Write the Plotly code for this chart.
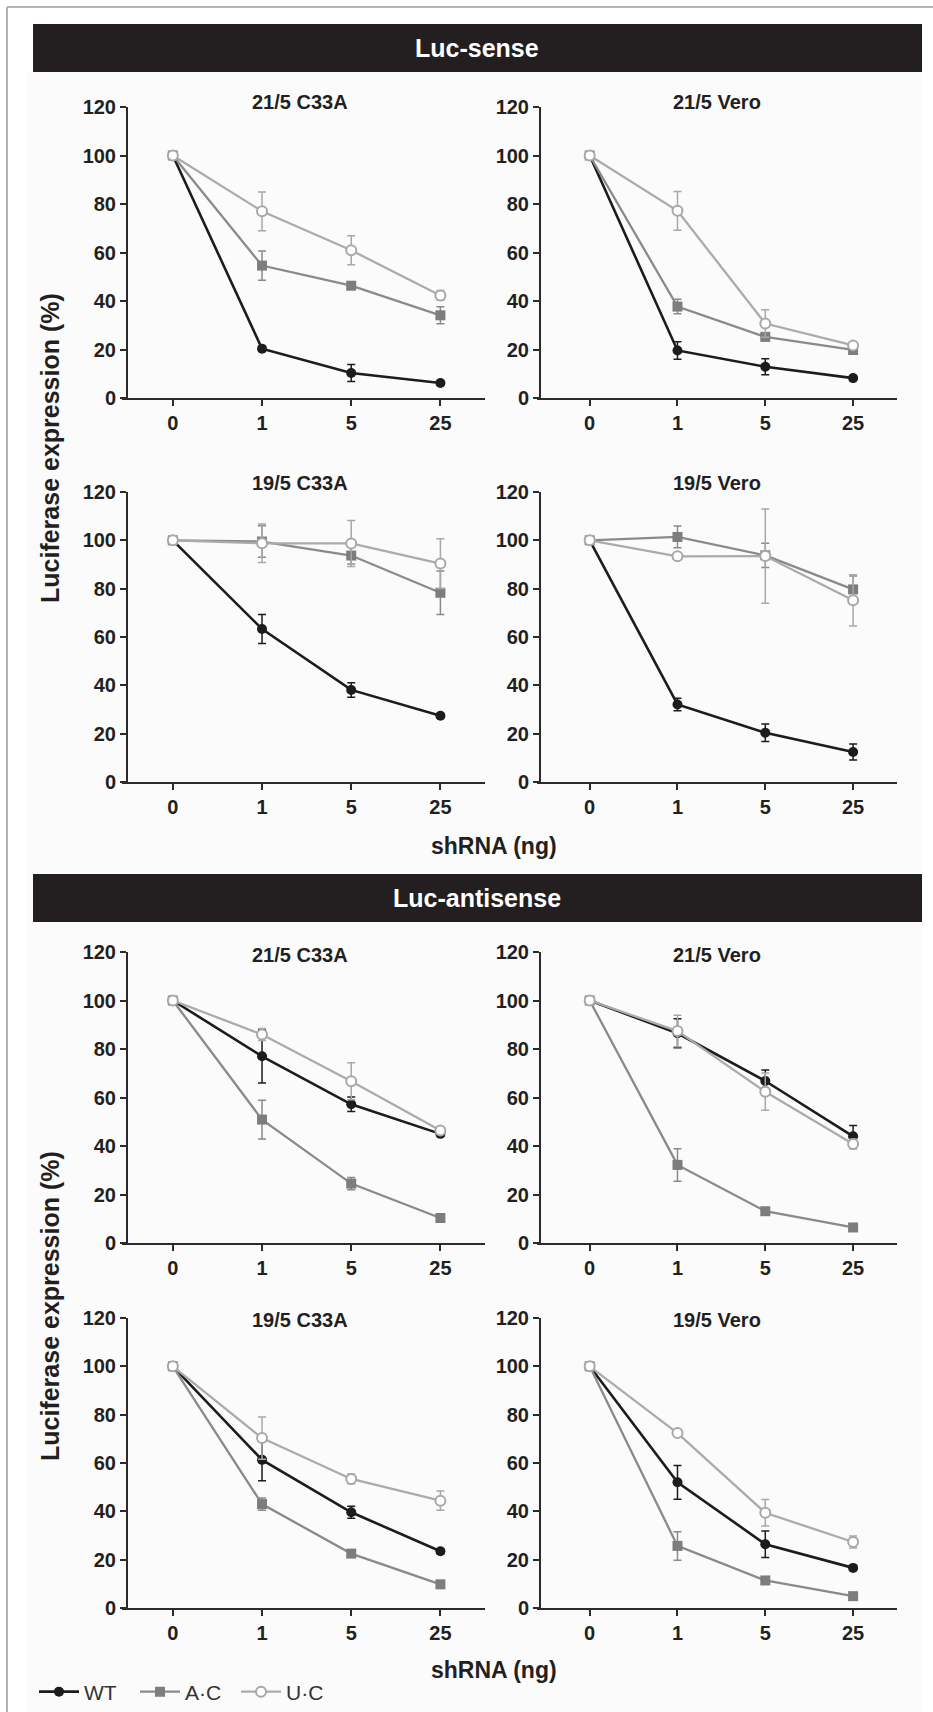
import plotly.graph_objects as go

# ---------------- data ----------------
DOSES = ["0", "1", "5", "25"]
SERIES = ["WT", "A·C", "U·C"]
PANEL_TITLES = ["21/5 C33A", "21/5 Vero", "19/5 C33A", "19/5 Vero"]
SECTION_TITLES = ["Luc-sense", "Luc-antisense"]
Y_TICKS = [0, 20, 40, 60, 80, 100, 120]

# Luc-sense
SENSE_21_C33A_WT = [100, 20.3, 10.3, 6.2]
SENSE_21_C33A_WT_ERR = [0, 1.0, 3.5, 0.8]
SENSE_21_C33A_AC = [100, 54.6, 46.3, 34.1]
SENSE_21_C33A_AC_ERR = [0, 6.0, 1.0, 3.5]
SENSE_21_C33A_UC = [100, 77.0, 60.9, 42.3]
SENSE_21_C33A_UC_ERR = [0, 8.0, 6.0, 2.0]

SENSE_21_VERO_WT = [100, 19.6, 12.9, 8.2]
SENSE_21_VERO_WT_ERR = [0, 3.6, 3.3, 0.8]
SENSE_21_VERO_AC = [100, 37.7, 25.2, 19.8]
SENSE_21_VERO_AC_ERR = [0, 3.0, 1.5, 1.0]
SENSE_21_VERO_UC = [100, 77.2, 30.7, 21.7]
SENSE_21_VERO_UC_ERR = [0, 8.0, 5.7, 1.0]

SENSE_19_C33A_WT = [100, 63.3, 38.1, 27.4]
SENSE_19_C33A_WT_ERR = [0, 6.0, 3.0, 0.8]
SENSE_19_C33A_AC = [100, 99.5, 93.7, 78.3]
SENSE_19_C33A_AC_ERR = [0, 6.5, 3.5, 9.0]
SENSE_19_C33A_UC = [100, 98.8, 98.7, 90.4]
SENSE_19_C33A_UC_ERR = [0, 8.0, 9.5, 10.3]

SENSE_19_VERO_WT = [100, 32.1, 20.4, 12.4]
SENSE_19_VERO_WT_ERR = [0, 2.6, 3.6, 3.3]
SENSE_19_VERO_AC = [100, 101.4, 93.8, 79.7]
SENSE_19_VERO_AC_ERR = [0, 4.5, 5.0, 5.5]
SENSE_19_VERO_UC = [100, 93.4, 93.5, 75.2]
SENSE_19_VERO_UC_ERR = [0, 0.8, 19.5, 10.6]

# Luc-antisense
ANTI_21_C33A_WT = [100, 77.0, 57.2, 45.0]
ANTI_21_C33A_WT_ERR = [0, 11.0, 3.0, 1.0]
ANTI_21_C33A_AC = [100, 50.9, 24.5, 10.3]
ANTI_21_C33A_AC_ERR = [0, 8.0, 2.5, 1.0]
ANTI_21_C33A_UC = [100, 86.0, 66.7, 46.4]
ANTI_21_C33A_UC_ERR = [0, 2.5, 7.6, 1.5]

ANTI_21_VERO_WT = [100, 86.5, 66.8, 44.0]
ANTI_21_VERO_WT_ERR = [0, 6.0, 4.5, 4.5]
ANTI_21_VERO_AC = [100, 32.2, 13.1, 6.4]
ANTI_21_VERO_AC_ERR = [0, 6.7, 1.0, 0.8]
ANTI_21_VERO_UC = [100, 87.4, 62.4, 40.8]
ANTI_21_VERO_UC_ERR = [0, 6.5, 7.7, 2.0]

ANTI_19_C33A_WT = [100, 61.3, 39.6, 23.5]
ANTI_19_C33A_WT_ERR = [0, 8.6, 2.5, 1.0]
ANTI_19_C33A_AC = [100, 43.0, 22.5, 9.8]
ANTI_19_C33A_AC_ERR = [0, 2.5, 1.0, 1.0]
ANTI_19_C33A_UC = [100, 70.3, 53.4, 44.4]
ANTI_19_C33A_UC_ERR = [0, 8.7, 2.0, 4.0]

ANTI_19_VERO_WT = [100, 52.0, 26.4, 16.6]
ANTI_19_VERO_WT_ERR = [0, 7.0, 5.5, 1.0]
ANTI_19_VERO_AC = [100, 25.7, 11.4, 4.9]
ANTI_19_VERO_AC_ERR = [0, 5.9, 1.0, 0.8]
ANTI_19_VERO_UC = [100, 72.4, 39.4, 27.3]
ANTI_19_VERO_UC_ERR = [0, 1.0, 5.5, 2.5]

PANELS = [
    [(SENSE_21_C33A_WT, SENSE_21_C33A_WT_ERR), (SENSE_21_C33A_AC, SENSE_21_C33A_AC_ERR), (SENSE_21_C33A_UC, SENSE_21_C33A_UC_ERR)],
    [(SENSE_21_VERO_WT, SENSE_21_VERO_WT_ERR), (SENSE_21_VERO_AC, SENSE_21_VERO_AC_ERR), (SENSE_21_VERO_UC, SENSE_21_VERO_UC_ERR)],
    [(SENSE_19_C33A_WT, SENSE_19_C33A_WT_ERR), (SENSE_19_C33A_AC, SENSE_19_C33A_AC_ERR), (SENSE_19_C33A_UC, SENSE_19_C33A_UC_ERR)],
    [(SENSE_19_VERO_WT, SENSE_19_VERO_WT_ERR), (SENSE_19_VERO_AC, SENSE_19_VERO_AC_ERR), (SENSE_19_VERO_UC, SENSE_19_VERO_UC_ERR)],
    [(ANTI_21_C33A_WT, ANTI_21_C33A_WT_ERR), (ANTI_21_C33A_AC, ANTI_21_C33A_AC_ERR), (ANTI_21_C33A_UC, ANTI_21_C33A_UC_ERR)],
    [(ANTI_21_VERO_WT, ANTI_21_VERO_WT_ERR), (ANTI_21_VERO_AC, ANTI_21_VERO_AC_ERR), (ANTI_21_VERO_UC, ANTI_21_VERO_UC_ERR)],
    [(ANTI_19_C33A_WT, ANTI_19_C33A_WT_ERR), (ANTI_19_C33A_AC, ANTI_19_C33A_AC_ERR), (ANTI_19_C33A_UC, ANTI_19_C33A_UC_ERR)],
    [(ANTI_19_VERO_WT, ANTI_19_VERO_WT_ERR), (ANTI_19_VERO_AC, ANTI_19_VERO_AC_ERR), (ANTI_19_VERO_UC, ANTI_19_VERO_UC_ERR)],
]

# ---------------- style ----------------
W, H = 933, 1712
FONT = "Liberation Sans, Arial, Helvetica, sans-serif"
INK = "#231f20"
AXIS = "#2b2b2b"
STYLES = [
    dict(line=dict(color="#1c1c1c", width=2.6),
         marker=dict(symbol="circle", size=10, color="#1c1c1c", line=dict(width=0)),
         err="#1c1c1c"),
    dict(line=dict(color="#8a8a8a", width=2.3),
         marker=dict(symbol="square", size=10, color="#7d7d7d", line=dict(width=0)),
         err="#8a8a8a"),
    dict(line=dict(color="#ababab", width=2.3),
         marker=dict(symbol="circle", size=10, color="#ffffff", line=dict(width=2, color="#a8a8a8")),
         err="#a8a8a8"),
]

def fx(p):
    return p / W

def fy(p):
    return 1 - p / H

ROWS = [(107, 398), (492, 782), (952, 1243), (1318, 1608)]
COLS = [dict(dom=(122, 485), yline=127, rng=[-0.57, 3.5], title_x=300),
        dict(dom=(537, 897), yline=540, rng=[-0.6, 3.5], title_x=717)]
TITLE_Y = [102, 483, 955, 1320]

fig = go.Figure()
layout = {}
annotations = []
shapes = []

# light inner background and frame
shapes.append(dict(type="rect", xref="paper", yref="paper", x0=fx(27), x1=fx(922), y0=0, y1=fy(72),
                   fillcolor="#fbfbfb", line=dict(width=0), layer="below"))
shapes.append(dict(type="line", xref="paper", yref="paper", x0=fx(7), x1=1, y0=fy(7), y1=fy(7),
                   line=dict(color="#b5b5b5", width=2)))
shapes.append(dict(type="line", xref="paper", yref="paper", x0=fx(7), x1=fx(7), y0=0, y1=fy(7),
                   line=dict(color="#b5b5b5", width=2)))

for k, panel in enumerate(PANELS):
    r = k // 2
    c = k % 2
    col = COLS[c]
    top, bot = ROWS[r]
    n = k + 1
    xa = "x" if n == 1 else f"x{n}"
    ya = "y" if n == 1 else f"y{n}"
    for s, (vals, errs) in enumerate(panel):
        st = STYLES[s]
        fig.add_trace(go.Scatter(
            x=DOSES, y=vals, xaxis=xa, yaxis=ya, mode="lines+markers",
            name=SERIES[s], legendgroup=SERIES[s], showlegend=(k == 0),
            line=st["line"], marker=st["marker"],
            error_y=dict(type="data", array=errs, visible=True, color=st["err"],
                         thickness=1.5, width=4),
        ))
    layout[("xaxis" if n == 1 else f"xaxis{n}")] = dict(
        domain=[fx(col["dom"][0]), fx(col["dom"][1])], anchor=ya,
        type="category", categoryorder="array", categoryarray=DOSES,
        range=col["rng"], showline=True, linecolor=AXIS, linewidth=2,
        ticks="outside", ticklen=6, tickwidth=2, tickcolor=AXIS,
        tickfont=dict(family=FONT, size=20, color=INK, weight="bold"),
        showgrid=False, zeroline=False, fixedrange=True, automargin=False,
    )
    layout[("yaxis" if n == 1 else f"yaxis{n}")] = dict(
        domain=[fy(bot), fy(top)], anchor="free", position=fx(col["yline"]),
        range=[0, 120], tickvals=Y_TICKS, showline=True, linecolor=AXIS, linewidth=2,
        ticks="outside", ticklen=6, tickwidth=2, tickcolor=AXIS,
        tickfont=dict(family=FONT, size=20, color=INK, weight="bold"),
        showgrid=False, zeroline=False, fixedrange=True, automargin=False,
    )
    annotations.append(dict(text=PANEL_TITLES[k % 4], xref="paper", yref="paper",
                            x=fx(col["title_x"]), y=fy(TITLE_Y[r]), xanchor="center", yanchor="middle",
                            showarrow=False, font=dict(family=FONT, size=20, color=INK, weight="bold")))

# section banners
for i, (bt, bb) in enumerate([(24, 72), (874, 922)]):
    shapes.append(dict(type="rect", xref="paper", yref="paper", x0=fx(33), x1=fx(922),
                       y0=fy(bb), y1=fy(bt), fillcolor="#231f20", line=dict(width=0)))
    annotations.append(dict(text=SECTION_TITLES[i], xref="paper", yref="paper",
                            x=fx(477), y=fy((bt + bb) / 2), xanchor="center", yanchor="middle",
                            showarrow=False, font=dict(family=FONT, size=25, color="#ffffff", weight="bold")))

# y-axis titles
for yc in [448, 1306]:
    annotations.append(dict(text="Luciferase expression (%)", xref="paper", yref="paper",
                            x=fx(50), y=fy(yc), xanchor="center", yanchor="middle", textangle=-90,
                            showarrow=False, font=dict(family=FONT, size=25, color=INK, weight="bold")))
# x-axis titles
for yc in [846, 1670]:
    annotations.append(dict(text="shRNA (ng)", xref="paper", yref="paper",
                            x=fx(494), y=fy(yc), xanchor="center", yanchor="middle",
                            showarrow=False, font=dict(family=FONT, size=23, color=INK, weight="bold")))

fig.update_layout(
    width=W, height=H, margin=dict(l=0, r=0, t=0, b=0, autoexpand=False),
    paper_bgcolor="#ffffff", plot_bgcolor="rgba(0,0,0,0)",
    showlegend=True,
    legend=dict(orientation="h", x=fx(34), y=fy(1692), xanchor="left", yanchor="middle",
                font=dict(family=FONT, size=21, color="#333333"), itemwidth=40,
                entrywidth=46, entrywidthmode="pixels",
                bgcolor="rgba(0,0,0,0)", tracegroupgap=0),
    annotations=annotations, shapes=shapes,
    **layout,
)

fig.write_html("out.html", config={"displayModeBar": False},
               post_script="document.body.style.margin='0px';document.body.style.overflow='hidden';")
